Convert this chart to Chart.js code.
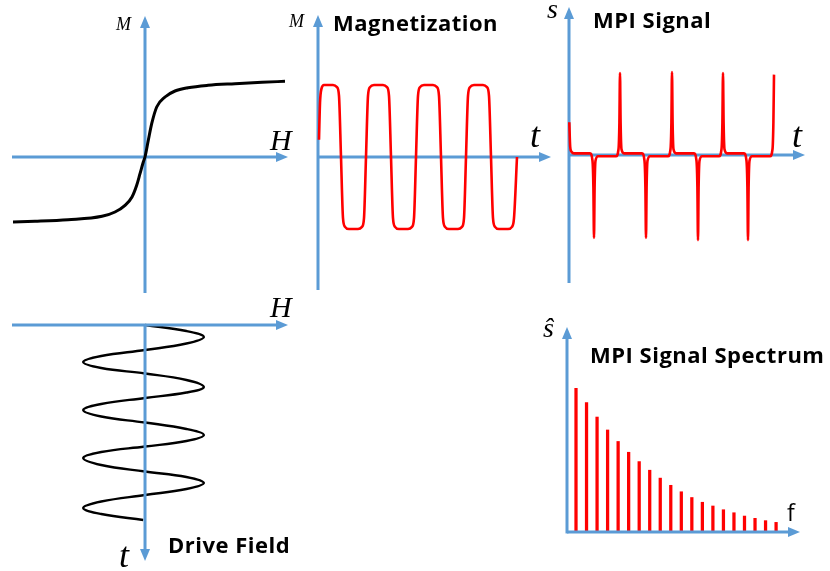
<!DOCTYPE html>
<html>
<head>
<meta charset="utf-8">
<script src="https://cdn.jsdelivr.net/npm/chart.js@4.4.0/dist/chart.umd.min.js"></script>
<style>
  body { margin: 0; background: #fff; width: 830px; height: 571px; position: relative; overflow: hidden; }
  canvas { position: absolute; }
  .lbl { position: absolute; line-height: 1; white-space: nowrap; color: #000; }
  .math { font-family: "Liberation Serif", "DejaVu Serif", serif; font-style: italic; }
  .ttl { font-family: "Open Sans", "Noto Sans", sans-serif; font-weight: bold; font-size: 22px; letter-spacing: 0.5px; }
</style>
</head>
<body>

<canvas id="graficoMH" width="300" height="300" style="left:0;top:0"></canvas>
<canvas id="graficoMag" width="270" height="300" style="left:290px;top:0"></canvas>
<canvas id="graficoSinal" width="275" height="300" style="left:555px;top:0"></canvas>
<canvas id="graficoCampo" width="300" height="281" style="left:0;top:290px"></canvas>
<canvas id="graficoEspectro" width="290" height="271" style="left:540px;top:300px"></canvas>

<div class="lbl math" style="left:116px;top:15px;font-size:18px">M</div>
<div class="lbl math" style="left:270px;top:125px;font-size:30px">H</div>
<div class="lbl math" style="left:289px;top:12px;font-size:18px">M</div>
<div class="lbl math" style="left:530px;top:117px;font-size:36px">t</div>
<div class="lbl math" style="left:547px;top:-5px;font-size:28px">s</div>
<div class="lbl math" style="left:792px;top:117px;font-size:36px">t</div>
<div class="lbl math" style="left:270px;top:292px;font-size:30px">H</div>
<div class="lbl math" style="left:119px;top:537px;font-size:36px">t</div>
<div class="lbl math" style="left:543px;top:314px;font-size:28px">ŝ</div>
<div class="lbl" style="left:787px;top:501px;font-size:23px;font-family:'Open Sans',sans-serif">f</div>

<div class="lbl ttl" style="left:333px;top:11px">Magnetization</div>
<div class="lbl ttl" style="left:593px;top:8px">MPI Signal</div>
<div class="lbl ttl" style="left:590px;top:343px">MPI Signal Spectrum</div>
<div class="lbl ttl" style="left:168px;top:533px">Drive Field</div>

<script>
// curva de magnetizacao M(H)
const curveH = [-1.32, -1.10, -0.77, -0.43, -0.30, -0.20, -0.13, -0.083, -0.05, -0.017, 0, 0.033, 0.067, 0.117, 0.20, 0.30, 0.43, 0.63, 0.90, 1.17, 1.40];
const curveM = [-0.65, -0.643, -0.627, -0.593, -0.55, -0.483, -0.40, -0.283, -0.167, -0.05, 0, 0.167, 0.333, 0.50, 0.60, 0.66, 0.693, 0.717, 0.733, 0.747, 0.757];

// magnetizacao no tempo
const magT = [1, 2, 3.5, 6,
  15, 19, 21, 23, 25, 27, 31,
  40, 44, 46, 48, 50, 52, 56,
  65, 69, 71, 73, 75, 77, 81,
  90, 94, 96, 98, 100, 102, 106,
  115, 119, 121, 123, 125, 127, 131,
  140, 144, 146, 148, 150, 152, 156,
  165, 169, 171, 173, 175, 177, 181,
  190, 194, 196, 199];
const magM = [0.24, 0.75, 0.95, 1.0,
  1.0, 0.97, 0.85, 0, -0.85, -0.97, -1.0,
  -1.0, -0.97, -0.85, 0, 0.85, 0.97, 1.0,
  1.0, 0.97, 0.85, 0, -0.85, -0.97, -1.0,
  -1.0, -0.97, -0.85, 0, 0.85, 0.97, 1.0,
  1.0, 0.97, 0.85, 0, -0.85, -0.97, -1.0,
  -1.0, -0.97, -0.85, 0, 0.85, 0.97, 1.0,
  1.0, 0.97, 0.85, 0, -0.85, -0.97, -1.0,
  -1.0, -0.97, -0.85, 0];

// sinal MPI (picos)
const sigT = [0.3, 1.2, 2.5, 5,
  21, 23.5, 24.4, 25, 25.6, 26.5, 29,
  47, 49.5, 50.4, 51, 51.6, 52.5, 55,
  73, 75.5, 76.4, 77, 77.6, 78.5, 81,
  99, 101.5, 102.4, 103, 103.6, 104.5, 107,
  125, 127.5, 128.4, 129, 129.6, 130.5, 133,
  150, 152.5, 153.4, 154, 154.6, 155.5, 158,
  175, 177.5, 178.4, 179, 179.6, 180.5, 183,
  201, 203.5, 204.4, 205];
const sigS = [0.40, 0.10, 0.04, 0.02,
  0.02, -0.07, -0.4, -1.01, -0.4, -0.07, -0.015,
  -0.015, 0.07, 0.4, 1.0, 0.4, 0.07, 0.02,
  0.02, -0.07, -0.4, -1.01, -0.4, -0.07, -0.015,
  -0.015, 0.07, 0.4, 1.01, 0.4, 0.07, 0.02,
  0.02, -0.07, -0.4, -1.04, -0.4, -0.07, -0.015,
  -0.015, 0.07, 0.4, 1.0, 0.4, 0.07, 0.02,
  0.02, -0.07, -0.4, -1.04, -0.4, -0.07, -0.015,
  -0.015, 0.07, 0.4, 0.98];

// campo de excitacao (tempo para baixo)
const driveT = [0, 6, 12, 18.5, 25, 31, 37, 43, 48.5, 55, 62, 67.5, 73, 79, 85, 91.5, 97.5, 104, 110, 116, 121.5, 127, 133, 140, 146.5, 152, 158, 164, 170, 176.5, 183, 189, 195];
const driveH = [0, 0.69, 0.98, 0.69, 0, -0.73, -1.03, -0.73, 0, 0.69, 0.98, 0.69, 0, -0.73, -1.03, -0.73, 0, 0.69, 0.98, 0.69, 0, -0.73, -1.03, -0.73, 0, 0.69, 0.98, 0.69, 0, -0.73, -1.03, -0.73, -0.03];

// espectro
const harmonics = [1, 2, 3, 4, 5, 6, 7, 8, 9, 10, 11, 12, 13, 14, 15, 16, 17, 18, 19, 20];
const spectrum = [1.00, 0.90, 0.80, 0.71, 0.63, 0.555, 0.49, 0.43, 0.375, 0.325, 0.28, 0.24, 0.207, 0.181, 0.155, 0.134, 0.111, 0.095, 0.079, 0.067];

const AXIS_BLUE = '#5b9bd5';

function pares(xs, ys) {
    return xs.map((v, i) => ({ x: v, y: ys[i] }));
}

// desenha os eixos com seta
function desenharEixos(chart, opts) {
    const ctx = chart.ctx;
    const sx = chart.scales.x, sy = chart.scales.y;
    ctx.save();
    ctx.strokeStyle = AXIS_BLUE;
    ctx.fillStyle = AXIS_BLUE;
    ctx.lineWidth = 3;
    opts.lines.forEach(l => {
        const x1 = sx.getPixelForValue(l[0]), y1 = sy.getPixelForValue(l[1]);
        const x2 = sx.getPixelForValue(l[2]), y2 = sy.getPixelForValue(l[3]);
        const ang = Math.atan2(y2 - y1, x2 - x1);
        const len = 12, half = 5;
        ctx.beginPath();
        ctx.moveTo(x1, y1);
        ctx.lineTo(x2 - Math.cos(ang) * (len - 1), y2 - Math.sin(ang) * (len - 1));
        ctx.stroke();
        ctx.beginPath();
        ctx.moveTo(x2, y2);
        ctx.lineTo(x2 - Math.cos(ang) * len - Math.sin(ang) * half, y2 - Math.sin(ang) * len + Math.cos(ang) * half);
        ctx.lineTo(x2 - Math.cos(ang) * len + Math.sin(ang) * half, y2 - Math.sin(ang) * len - Math.cos(ang) * half);
        ctx.closePath();
        ctx.fill();
    });
    ctx.restore();
}

const eixosSeta = {
    id: 'eixosSeta',
    beforeDatasetsDraw(chart, args, opts) { if (!opts.onTop) desenharEixos(chart, opts); },
    afterDatasetsDraw(chart, args, opts) { if (opts.onTop) desenharEixos(chart, opts); }
};

function escalas(xmin, xmax, ymin, ymax, yrev) {
    return {
        x: { type: 'linear', display: false, min: xmin, max: xmax, offset: false },
        y: { type: 'linear', display: false, min: ymin, max: ymax, reverse: !!yrev }
    };
}

function linha(dados, cor, largura, modo) {
    return {
        data: dados,
        showLine: true,
        borderColor: cor,
        borderWidth: largura,
        pointRadius: 0,
        fill: false,
        cubicInterpolationMode: modo === 'monotone' ? 'monotone' : 'default',
        tension: modo === 'monotone' ? 0 : 0.4
    };
}

function opcoesBase(esc, eixos) {
    return {
        responsive: false,
        devicePixelRatio: 1,
        animation: false,
        layout: { padding: 0 },
        scales: esc,
        plugins: {
            legend: { display: false },
            tooltip: { enabled: false },
            eixosSeta: eixos
        }
    };
}

new Chart(document.getElementById('graficoMH'), {
    type: 'scatter',
    data: { datasets: [linha(pares(curveH, curveM), '#000', 3, 'monotone')] },
    options: opcoesBase(escalas(-1.45, 1.55, -1.43, 1.57),
        { lines: [[-1.33, 0, 1.43, 0], [0, -1.36, 0, 1.41]] }),
    plugins: [eixosSeta]
});

new Chart(document.getElementById('graficoMag'), {
    type: 'scatter',
    data: { datasets: [linha(pares(magT, magM), '#ff0000', 2.6, 'monotone')] },
    options: opcoesBase(escalas(-28, 242, -1.986, 2.181),
        { lines: [[0, 0, 233, 0], [0, -1.847, 0, 1.972]] }),
    plugins: [eixosSeta]
});

new Chart(document.getElementById('graficoSinal'), {
    type: 'scatter',
    data: { datasets: [linha(pares(sigT, sigS), '#ff0000', 2.6, 'monotone')] },
    options: opcoesBase(escalas(-14, 261, -1.768, 1.890),
        { lines: [[0, 0, 236, 0], [0, -1.561, 0, 1.805]] }),
    plugins: [eixosSeta]
});

new Chart(document.getElementById('graficoCampo'), {
    type: 'scatter',
    data: { datasets: [linha(pares(driveH, driveT), '#000', 2.4, 'tension')] },
    options: opcoesBase(escalas(-2.417, 2.583, -35, 246, true),
        { onTop: true, lines: [[-2.217, 0, 2.383, 0], [0, 0, 0, 236]] }),
    plugins: [eixosSeta]
});

new Chart(document.getElementById('graficoEspectro'), {
    type: 'bar',
    data: {
        datasets: [{
            data: pares(harmonics, spectrum),
            backgroundColor: '#ff0000',
            barThickness: 2.6
        }]
    },
    options: opcoesBase(escalas(-2.419, 25.12, -0.2714, 1.6145),
        { onTop: true, lines: [[0.145, 0, 22.27, 0], [0.145, -0.01, 0.145, 1.4266]] }),
    plugins: [eixosSeta]
});
</script>
</body>
</html>
